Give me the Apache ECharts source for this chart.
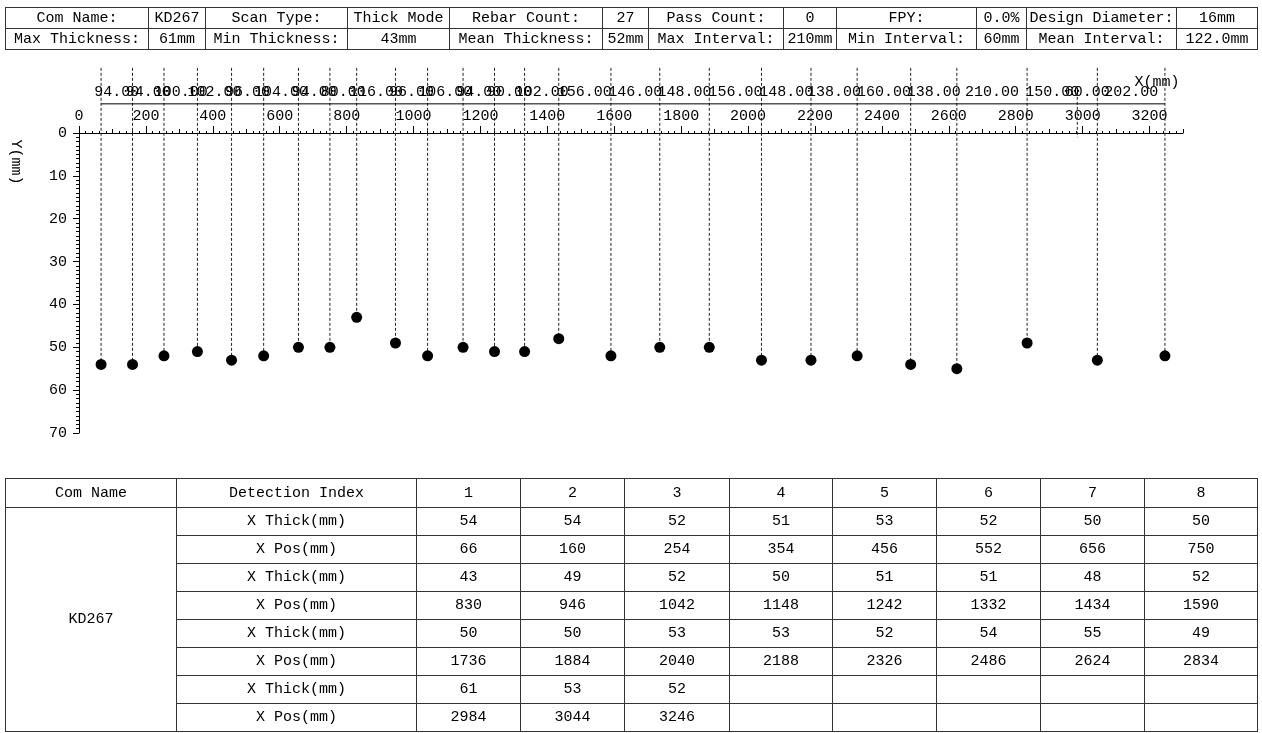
<!DOCTYPE html>
<html>
<head>
<meta charset="utf-8">
<script src="https://cdn.jsdelivr.net/npm/echarts@6/dist/echarts.min.js"></script>
<style>
  body { margin: 0; background: #fff; }
  #page {
    position: relative; width: 1262px; height: 733px; overflow: hidden;
    font-family: "Liberation Mono", monospace; font-size: 15px; color: #000;
  }
  #chart { position: absolute; left: 0; top: 0; width: 1262px; height: 733px; }
  table { position: absolute; border-collapse: collapse; table-layout: fixed; }
  td { border: 1px solid #333; text-align: center; padding: 0; white-space: nowrap; overflow: hidden; }
  #info { left: 5px; top: 7px; width: 1252px; }
  #info tr { height: 21px; }
  #detail { left: 5px; top: 478px; width: 1252px; }
  #detail tr { height: 28px; }
  #detail tr.head { height: 29px; }
</style>
</head>
<body>
<div id="page">
  <div id="chart"></div>
  <table id="info"></table>
  <table id="detail"></table>
</div>
<script>
// data
const comName = "KD267"
const positions = [66, 160, 254, 354, 456, 552, 656, 750, 830, 946, 1042, 1148, 1242, 1332,
  1434, 1590, 1736, 1884, 2040, 2188, 2326, 2486, 2624, 2834, 2984, 3044, 3246]
const thickness = [54, 54, 52, 51, 53, 52, 50, 50, 43, 49, 52, 50, 51, 51,
  48, 52, 50, 50, 53, 53, 52, 54, 55, 49, 61, 53, 52]
const intervals = [94, 94, 100, 102, 96, 104, 94, 80, 116, 96, 106, 94, 90, 102,
  156, 146, 148, 156, 148, 138, 160, 138, 210, 150, 60, 202]
// listed in the table but no dot on the plot
const unplotted = [2984]

const infoRows = [
  ["Com Name:", comName, "Scan Type:", "Thick Mode", "Rebar Count:", "27", "Pass Count:", "0", "FPY:", "0.0%", "Design Diameter:", "16mm"],
  ["Max Thickness:", "61mm", "Min Thickness:", "43mm", "Mean Thickness:", "52mm", "Max Interval:", "210mm", "Min Interval:", "60mm", "Mean Interval:", "122.0mm"]
]
const infoWidths = [143, 57, 142, 102, 153, 46, 135, 53, 140, 50, 150, 81]
const detailWidths = [171, 240, 104, 104, 105, 103, 104, 104, 104, 113]
const perRow = 8

const xMax = 3300
const yMax = 70
// rows above the axis, in mm of the y scale
const guideTop = -15.2
const labelRow = -9.6
const barRow = -6.8

// ---- tables
const colgroup = ws => "<colgroup>" + ws.map(w => `<col style="width:${w}px">`).join("") + "</colgroup>"
document.getElementById("info").innerHTML = colgroup(infoWidths) +
  infoRows.map(r => "<tr>" + r.map(c => `<td>${c}</td>`).join("") + "</tr>").join("")

let html = colgroup(detailWidths)
html += '<tr class="head"><td>Com Name</td><td>Detection Index</td>'
for (let i = 1; i <= perRow; i++) html += `<td>${i}</td>`
html += "</tr>"
const groups = Math.ceil(positions.length / perRow)
for (let g = 0; g < groups; g++) {
  const th = thickness.slice(g * perRow, g * perRow + perRow)
  const ps = positions.slice(g * perRow, g * perRow + perRow)
  const cells = arr => { let s = ""; for (let i = 0; i < perRow; i++) s += `<td>${arr[i] ?? ""}</td>`; return s }
  html += "<tr>" + (g === 0 ? `<td rowspan="${groups * 2}">${comName}</td>` : "") + "<td>X Thick(mm)</td>" + cells(th) + "</tr>"
  html += "<tr><td>X Pos(mm)</td>" + cells(ps) + "</tr>"
}
document.getElementById("detail").innerHTML = html

// ---- chart
const font = '15px "Liberation Mono"'
const chart = echarts.init(document.getElementById("chart"))
const option = {
  animation: false,
  grid: { left: 79, top: 133, width: 1104, height: 300, outerBoundsMode: "none" },
  xAxis: [
    {
      type: "value", position: "top", min: 0, max: xMax, interval: 200,
      axisLine: { show: true, onZero: false, lineStyle: { color: "#000", width: 1 } },
      axisTick: { show: true, length: 7, lineStyle: { color: "#000" } },
      axisLabel: {
        color: "#000", fontFamily: "Liberation Mono", fontSize: 15, margin: 9, showMaxLabel: false,
        formatter: v => String(v)
      },
      splitLine: { show: false }
    },
    {
      type: "value", position: "top", min: 0, max: xMax, interval: 100,
      axisLine: { show: false, onZero: false },
      axisTick: { show: true, length: 4, lineStyle: { color: "#000" } },
      minorTick: { show: true, splitNumber: 5, length: 2, lineStyle: { color: "#000" } },
      axisLabel: { show: false },
      splitLine: { show: false }
    }
  ],
  yAxis: {
    type: "value", inverse: true, min: 0, max: yMax, interval: 10,
    axisLine: { show: true, onZero: false, lineStyle: { color: "#000", width: 1 } },
    axisTick: { show: true, length: 6, lineStyle: { color: "#000" } },
    minorTick: { show: true, splitNumber: 10, length: 3, lineStyle: { color: "#000" } },
    axisLabel: { color: "#000", fontFamily: "Liberation Mono", fontSize: 15, margin: 12, formatter: v => String(v) },
    splitLine: { show: false }
  },
  graphic: [
    { type: "text", x: 1157, y: 82, style: { text: "X(mm)", font: font, fill: "#000", align: "center", verticalAlign: "middle" } },
    { type: "text", x: 16, y: 162, rotation: -Math.PI / 2, style: { text: "Y(mm)", font: font, fill: "#000", align: "center", verticalAlign: "middle" } }
  ],
  series: [
    {
      // dashed guides from the interval row down to each rebar
      type: "custom",
      silent: true,
      data: positions.map((p, i) => [p, thickness[i]]),
      renderItem: (params, api) => {
        const x = api.value(0)
        const hidden = unplotted.includes(x)
        const a = api.coord([x, hidden ? labelRow : guideTop])
        const b = api.coord([x, hidden ? 1 : api.value(1)])
        return {
          type: "line",
          shape: { x1: a[0], y1: a[1], x2: b[0], y2: b[1] },
          style: { stroke: "#222", lineWidth: 1, lineDash: [3, 2] }
        }
      }
    },
    {
      // line under the interval labels
      type: "custom",
      silent: true,
      data: [[positions[0], positions[positions.length - 1]]],
      renderItem: (params, api) => {
        const a = api.coord([api.value(0), barRow])
        const b = api.coord([api.value(1), barRow])
        return {
          type: "line",
          shape: { x1: a[0], y1: a[1], x2: b[0], y2: b[1] },
          style: { stroke: "#000", lineWidth: 1 }
        }
      }
    },
    {
      // spacing between neighbouring rebars
      type: "custom",
      silent: true,
      data: intervals.map((v, i) => [(positions[i] + positions[i + 1]) / 2, labelRow, v]),
      renderItem: (params, api) => {
        const c = api.coord([api.value(0), api.value(1)])
        return {
          type: "text",
          x: c[0], y: c[1],
          style: { text: api.value(2).toFixed(2), font: font, fill: "#000", align: "center", verticalAlign: "middle" }
        }
      }
    },
    {
      type: "scatter",
      symbol: "circle",
      symbolSize: 11,
      itemStyle: { color: "#000", opacity: 1 },
      silent: true,
      data: positions.map((p, i) => [p, thickness[i]]).filter(d => !unplotted.includes(d[0]))
    }
  ]
}
chart.setOption(option)
</script>
</body>
</html>
